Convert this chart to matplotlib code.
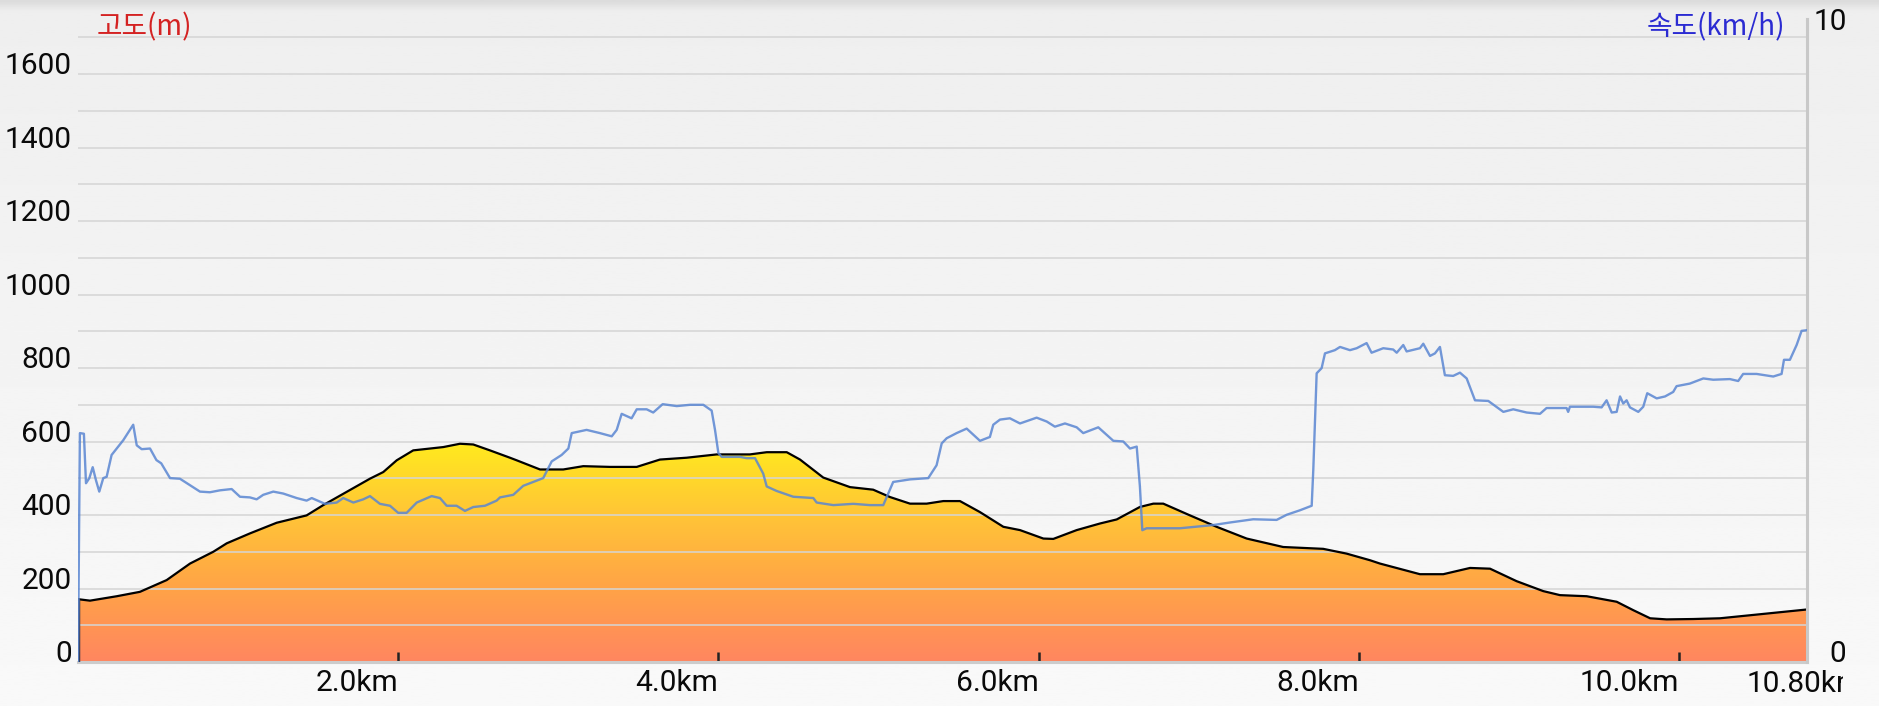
import numpy as np
import matplotlib
matplotlib.use("Agg")
import matplotlib.pyplot as plt
from matplotlib.colors import LinearSegmentedColormap
from matplotlib.patches import Rectangle

plt.rcParams['font.family'] = ['Roboto', 'Noto Sans CJK KR', 'DejaVu Sans']

# 고도 (elevation) profile: distance km / metres
elev_km = [0.0, 0.075, 0.242, 0.387, 0.554, 0.70, 0.845, 0.929, 1.074, 1.241, 1.428,
           1.532, 1.678, 1.824, 1.907, 1.991, 2.094, 2.199, 2.282, 2.386, 2.469, 2.573,
           2.698, 2.74, 2.886, 3.031, 3.156, 3.323, 3.49, 3.635, 3.802, 3.99, 4.197,
           4.302, 4.427, 4.51, 4.655, 4.822, 4.967, 5.072, 5.197, 5.301, 5.405, 5.509,
           5.634, 5.78, 5.884, 6.03, 6.092, 6.238, 6.384, 6.488, 6.633, 6.717, 6.779,
           6.946, 7.112, 7.30, 7.528, 7.778, 7.924, 8.07, 8.132, 8.382, 8.528, 8.695,
           8.82, 8.986, 9.152, 9.257, 9.424, 9.611, 9.715, 9.82, 9.923, 10.09, 10.256,
           10.506, 10.80]
elev_m = [171, 167, 179, 191, 223, 268, 300, 323, 350, 379, 399,
          427, 463, 499, 517, 549, 576, 581, 585, 594, 592, 576,
          556, 549, 524, 524, 533, 531, 531, 551, 556, 565, 565,
          571, 571, 551, 502, 476, 469, 449, 431, 431, 438, 438,
          408, 368, 359, 336, 335, 359, 377, 388, 422, 431, 431,
          399, 368, 336, 313, 308, 295, 277, 268, 239, 239, 256,
          254, 220, 193, 182, 179, 164, 141, 119, 116, 117, 119,
          130, 143]

# 속도 (speed) trace: distance km / km/h
speed_km = [0.0, 0.012, 0.037, 0.05, 0.071, 0.092, 0.112, 0.133, 0.158, 0.179, 0.21,
            0.242, 0.283, 0.345, 0.367, 0.398, 0.45, 0.49, 0.52, 0.575, 0.637, 0.70,
            0.762, 0.824, 0.887, 0.96, 1.012, 1.074, 1.116, 1.157, 1.22, 1.282, 1.366,
            1.428, 1.46, 1.543, 1.616, 1.657, 1.72, 1.782, 1.824, 1.886, 1.949, 2.0,
            2.053, 2.116, 2.209, 2.261, 2.303, 2.365, 2.417, 2.469, 2.542, 2.615, 2.636,
            2.719, 2.781, 2.844, 2.906, 2.959, 3.021, 3.063, 3.084, 3.177, 3.26, 3.334,
            3.365, 3.396, 3.458, 3.49, 3.552, 3.593, 3.652, 3.74, 3.823, 3.906, 3.958,
            3.979, 4.0, 4.021, 4.135, 4.177, 4.229, 4.28, 4.302, 4.364, 4.468, 4.593,
            4.614, 4.718, 4.843, 4.947, 5.03, 5.092, 5.197, 5.311, 5.363, 5.395, 5.426,
            5.488, 5.551, 5.634, 5.696, 5.717, 5.759, 5.821, 5.884, 5.988, 6.051, 6.102,
            6.165, 6.238, 6.279, 6.373, 6.467, 6.529, 6.571, 6.613, 6.633, 6.648, 6.675,
            6.883, 7.091, 7.196, 7.341, 7.487, 7.55, 7.633, 7.706, 7.716, 7.737, 7.768,
            7.789, 7.851, 7.883, 7.945, 7.987, 8.049, 8.08, 8.153, 8.215, 8.237, 8.278,
            8.299, 8.382, 8.403, 8.445, 8.476, 8.507, 8.538, 8.59, 8.632, 8.674, 8.726,
            8.809, 8.903, 8.965, 9.049, 9.132, 9.173, 9.298, 9.308, 9.319, 9.465, 9.517,
            9.548, 9.58, 9.611, 9.632, 9.652, 9.673, 9.694, 9.746, 9.777, 9.802, 9.861,
            9.913, 9.964, 9.985, 10.068, 10.152, 10.214, 10.318, 10.37, 10.401, 10.485,
            10.589, 10.641, 10.656, 10.693, 10.735, 10.766, 10.80]
speed_kmh = [0.0, 3.56, 3.55, 2.78, 2.86, 3.03, 2.83, 2.65, 2.86, 2.88, 3.22,
             3.32, 3.45, 3.69, 3.37, 3.31, 3.32, 3.14, 3.09, 2.86, 2.85, 2.75,
             2.65, 2.64, 2.67, 2.69, 2.57, 2.56, 2.53, 2.60, 2.65, 2.62, 2.55,
             2.51, 2.55, 2.46, 2.48, 2.55, 2.48, 2.53, 2.58, 2.46, 2.43, 2.32,
             2.32, 2.48, 2.58, 2.55, 2.43, 2.43, 2.35, 2.41, 2.43, 2.51, 2.56,
             2.60, 2.74, 2.80, 2.86, 3.12, 3.22, 3.32, 3.56, 3.61, 3.56, 3.51,
             3.61, 3.86, 3.79, 3.93, 3.93, 3.88, 4.01, 3.98, 4.00, 4.00, 3.91,
             3.61, 3.25, 3.19, 3.19, 3.17, 3.17, 2.93, 2.73, 2.66, 2.57, 2.55,
             2.48, 2.44, 2.46, 2.44, 2.44, 2.80, 2.84, 2.86, 3.06, 3.40, 3.48,
             3.56, 3.63, 3.44, 3.50, 3.69, 3.77, 3.79, 3.71, 3.80, 3.74, 3.66,
             3.71, 3.65, 3.56, 3.65, 3.44, 3.43, 3.32, 3.35, 2.73, 2.05, 2.08,
             2.08, 2.13, 2.17, 2.22, 2.21, 2.29, 2.36, 2.43, 2.99, 4.49, 4.57,
             4.80, 4.85, 4.90, 4.85, 4.88, 4.96, 4.81, 4.88, 4.86, 4.81, 4.93,
             4.83, 4.88, 4.95, 4.76, 4.80, 4.90, 4.46, 4.45, 4.50, 4.41, 4.07,
             4.06, 3.89, 3.93, 3.88, 3.86, 3.95, 3.95, 3.89, 3.97, 3.97, 3.96,
             4.07, 3.88, 3.89, 4.13, 4.02, 4.07, 3.96, 3.89, 3.97, 4.18, 4.10,
             4.13, 4.20, 4.29, 4.33, 4.41, 4.39, 4.40, 4.37, 4.48, 4.48,
             4.44, 4.48, 4.70, 4.70, 4.93, 5.15, 5.16]

elev_ticks = [0, 200, 400, 600, 800, 1000, 1200, 1400, 1600]
dist_ticks = [2.0, 4.0, 6.0, 8.0, 10.0]
dist_labels = ['2.0km', '4.0km', '6.0km', '8.0km', '10.0km']
total_label = '10.80km'

ELEV_MAX = 1750
SPEED_MAX = 10
FS = 21.5
total_km = elev_km[-1]

fig = plt.figure(figsize=(18.79, 7.06), dpi=100)
fig.patch.set_facecolor('#F2F2F2')

# soft background gradient with a darker shadow strip at the very top
bg = fig.add_axes([0, 0, 1, 1], zorder=-10)
rows = np.linspace(0, 1, 300)
shade = 0.935 + 0.04 * rows
shade[:5] = np.linspace(0.86, 0.93, 5)
bg.imshow(np.repeat(shade[:, None], 2, axis=1), cmap='gray', vmin=0, vmax=1,
          aspect='auto', extent=[0, 1, 0, 1], origin='upper')
bg.axis('off')

ax = fig.add_axes([0.0415, 0.0623, 0.9202, 0.9108])
ax.patch.set_alpha(0)
ax.set_xlim(0, total_km)
ax.set_ylim(0, ELEV_MAX)

# gradient fill under the elevation line
cmap = LinearSegmentedColormap.from_list('elev', ['#FF8660', '#FFA347', '#FFC437', '#FFEA1E'])
grad = np.linspace(0, 1, 256)[:, None]
top = max(elev_m)
img = ax.imshow(grad, cmap=cmap, aspect='auto', origin='lower',
                extent=[0, total_km, 0, top], zorder=1)
poly = ax.fill_between(elev_km, 0, elev_m, color='none', lw=0)
img.set_clip_path(poly.get_paths()[0], transform=ax.transData)
ax.plot(elev_km, elev_m, color='black', lw=1.6, zorder=3)
ax.vlines(elev_km[0], 0, elev_m[0], color='#333344', lw=2.5, zorder=3)

# grid every 100 m, drawn over the fill
for g in range(100, ELEV_MAX, 100):
    ax.axhline(g, color='#D5D5D5', lw=1.3, alpha=0.85, zorder=2)

# speed on a twin axis
ax2 = ax.twinx()
ax2.set_ylim(0, SPEED_MAX)
ax2.plot(speed_km, speed_kmh, color='#5A86D2', lw=1.7, alpha=0.85, zorder=4)

for a in (ax, ax2):
    for s in ('top', 'left'):
        a.spines[s].set_visible(False)
ax.spines['right'].set_visible(False)
ax2.spines['bottom'].set_visible(False)
ax.spines['bottom'].set_color('#CCCCCC')
ax.spines['bottom'].set_linewidth(2.2)
ax2.spines['right'].set_color('#C8C8C8')
ax2.spines['right'].set_linewidth(2.2)

ax.set_yticks(elev_ticks)
ax.set_yticklabels([str(v) for v in elev_ticks], fontsize=FS, color='#0A0A0A', va='baseline')
ax.tick_params(axis='y', length=0, pad=4.5)

ax.set_xticks(dist_ticks)
ax.set_xticklabels(dist_labels, fontsize=FS, color='#0A0A0A', ha='right')
ax.tick_params(axis='x', direction='in', length=7, width=1.8, color='#222222', pad=5)
# last label runs past the edge and is cut off, as in the app screenshot
last = ax.text(total_km - 0.375, -0.012, total_label, fontsize=FS, color='#0A0A0A',
               transform=ax.get_xaxis_transform(), ha='left', va='top', clip_on=True)
last.set_clip_path(Rectangle((0, 0), 1843 / 1879, 1, transform=fig.transFigure))

ax2.set_yticks([0, SPEED_MAX])
ax2.set_yticklabels(['0', '10'], fontsize=FS, color='#0A0A0A', ha='right')
ax2.get_yticklabels()[0].set_va('baseline')
ax2.get_yticklabels()[1].set_va('center_baseline')
ax2.tick_params(axis='y', length=0, pad=28.5)

fig.text(97 / 1879, 1 - 27 / 706, '고도(m)', color='#D42222', fontsize=20,
         ha='left', va='center', family=['Noto Sans CJK KR', 'Roboto'])
fig.text(1785 / 1879, 1 - 27 / 706, '속도(km/h)', color='#2B2BD2', fontsize=20,
         ha='right', va='center', family=['Noto Sans CJK KR', 'Roboto'])

fig.savefig('out.png', dpi=100, facecolor=fig.get_facecolor())
